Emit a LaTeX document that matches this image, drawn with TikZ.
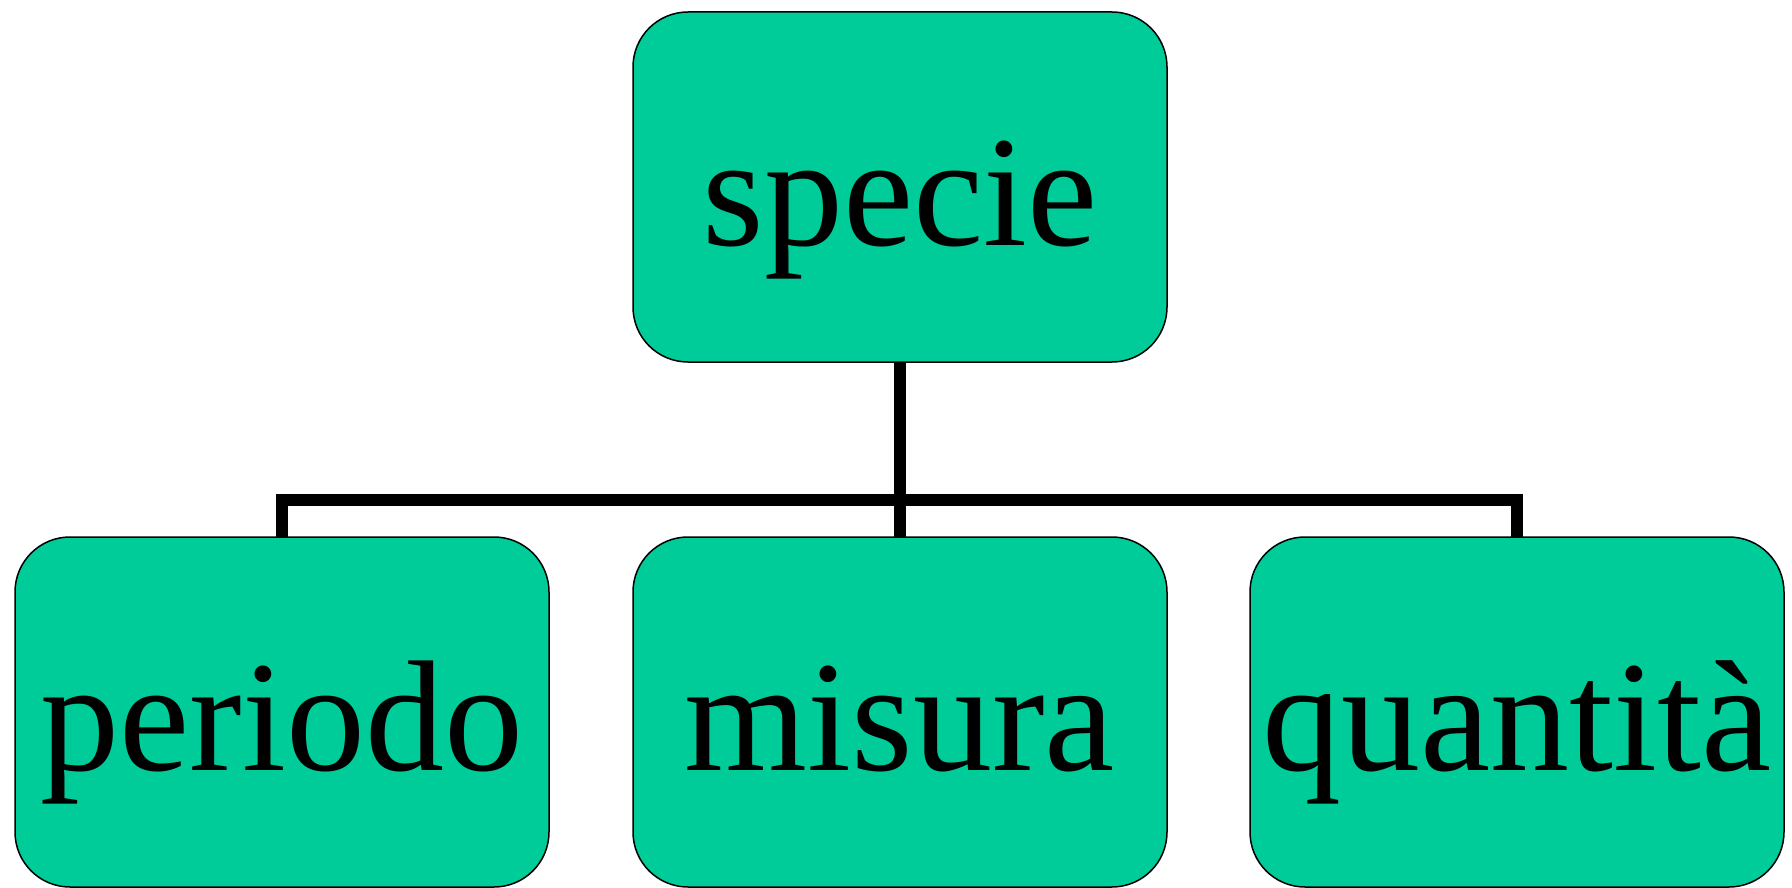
\documentclass[tikz,border=0pt]{standalone}
\usepackage{fontspec}
\setmainfont{Liberation Serif}
\definecolor{boxgreen}{RGB}{0,204,153}
\begin{document}
\begin{tikzpicture}[x=1pt,y=-1pt,
  box/.style={draw=black, line width=1.5pt, fill=boxgreen, rounded corners=55pt,
    minimum width=534pt, minimum height=350pt, inner sep=0pt,
    font=\fontsize{158}{160}\selectfont, text height=116pt, text depth=0pt},
  conn/.style={draw=black, line width=12pt, line join=miter}]
\useasboundingbox (0,0) rectangle (1792,888);
\coordinate (bar) at (900,500);
\coordinate (sc) at (900,187);
\coordinate (pc) at (282,712);
\coordinate (mc) at (900,712);
\coordinate (qc) at (1517,712);
\draw[conn] (sc) -- (mc);
\draw[conn] (pc) |- (bar) -| (qc);
\node[box] (s) at (sc) {specie};
\node[box] (p) at (pc) {periodo};
\node[box] (m) at (mc) {misura};
\node[box] (q) at (qc) {quantità};
\end{tikzpicture}
\end{document}
